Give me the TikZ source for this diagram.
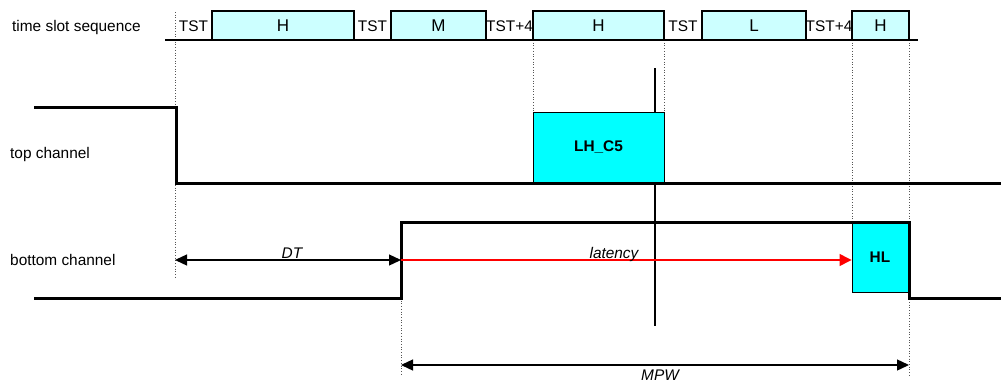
\documentclass[tikz,border=0pt]{standalone}
\usepackage{fontspec}
\setmainfont{Liberation Sans}
\usetikzlibrary{arrows.meta}
\definecolor{slotfill}{HTML}{CCFFFF}
\definecolor{boxcyan}{HTML}{00FFFF}
\definecolor{dotgray}{HTML}{555555}
\begin{document}
\begin{tikzpicture}[x=1pt,y=-1pt,
  lbl/.style={font=\fontsize{15.4}{18}\selectfont, inner sep=0pt},
  slot/.style={draw=black, line width=1.1pt, fill=slotfill, inner sep=0pt,
    minimum height=29pt, font=\fontsize{17}{18}\selectfont},
  sig/.style={draw=black, line width=0.9pt, fill=boxcyan, inner sep=0pt,
    font=\bfseries\fontsize{15.4}{18}\selectfont},
  chan/.style={line width=3pt, line cap=rect, line join=miter},
  guide/.style={dotgray, dotted, line width=0.7pt},
  dim/.style={line width=1.3pt, {Triangle[length=12pt,width=11pt]}-{Triangle[length=12pt,width=11pt]}},
  lat/.style={red, line width=1.3pt, -{Triangle[length=12pt,width=12pt]}},
  itl/.style={font=\itshape\fontsize{15.4}{18}\selectfont, inner sep=0pt, anchor=base}
]
\useasboundingbox (0,0) rectangle (1001,383);

% labels on the left
\node[lbl, anchor=west] (tss) at (12,28) {time slot sequence};
\node[lbl, anchor=west] (tc) at (10,155) {top channel};
\node[lbl, anchor=west] (bc) at (10,260) {bottom channel};

% guide lines
\draw[guide] (175,12) -- (175,277);
\draw[guide] (533,40) -- (533,112);
\draw[guide] (664,40) -- (664,112);
\draw[guide] (852,40) -- (852,222);
\draw[guide] (909,40) -- (909,375);
\draw[guide] (401,298) -- (401,375);

% time slot row
\draw[line width=1.3pt] (165,40) -- (918,40);
\node[slot, minimum width=142pt] (h1) at (283,25.5) {H};
\node[slot, minimum width=95pt] (m1) at (438.5,25.5) {M};
\node[slot, minimum width=131pt] (h2) at (598.5,25.5) {H};
\node[slot, minimum width=104pt] (l1) at (754,25.5) {L};
\node[slot, minimum width=57pt] (h3) at (880.5,25.5) {H};
\node[lbl] (t1) at (193.5,26) {TST};
\node[lbl] (t2) at (372.5,26) {TST};
\node[lbl] (t3) at (509.5,26) {TST+4};
\node[lbl] (t4) at (683,26) {TST};
\node[lbl] (t5) at (829,26) {TST+4};

% vertical marker
\coordinate (vtop) at (655,68);
\coordinate (vbot) at (655,326);
\draw[line width=1.1pt] (vtop) -- (vbot);

% signal boxes
\node[sig, minimum width=131pt, minimum height=71pt] (lhc5) at (598.5,147.5) {LH\_C5};
\node[sig, minimum width=56pt, minimum height=70pt] (hl) at (880,257) {HL};

% channels
\draw[chan] (35,107) -- (176,107) -- (176,183) -- (1000,183);
\draw[chan] (35,298) -- (401,298) -- (401,222) -- (909,222) -- (909,298) -- (1000,298);

% dimension arrows
\coordinate (dtl) at (175,260);
\coordinate (dtr) at (401,260);
\draw[dim] (dtl) -- (dtr);
\node[itl] (dt) at (292,258) {DT};
\draw[lat] (dtr) -- (dtr -| hl.west);
\node[itl] (latency) at (614,258) {latency};
\coordinate (mpwl) at (401,365);
\coordinate (mpwr) at (909,365);
\draw[dim] (mpwl) -- (mpwr);
\node[itl] (mpw) at (660,380) {MPW};
\end{tikzpicture}
\end{document}
